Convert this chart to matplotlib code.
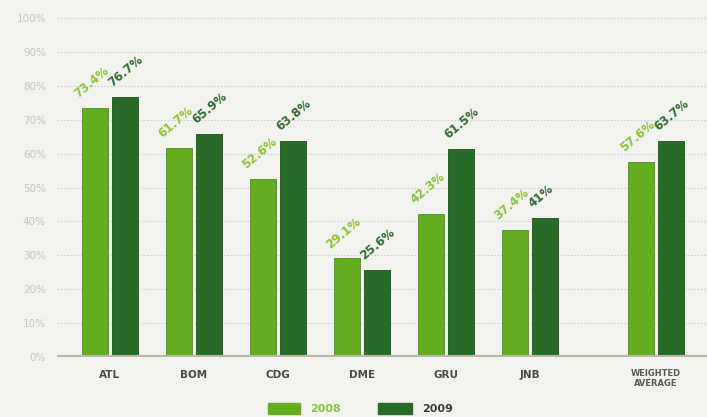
import matplotlib
matplotlib.use("Agg")
import matplotlib.pyplot as plt
import numpy as np
from matplotlib.patches import Rectangle

categories = ["ATL", "BOM", "CDG", "DME", "GRU", "JNB", "WEIGHTED\nAVERAGE"]
values_2008 = [73.4, 61.7, 52.6, 29.1, 42.3, 37.4, 57.6]
values_2009 = [76.7, 65.9, 63.8, 25.6, 61.5, 41.0, 63.7]
label_2008 = ["73.4%", "61.7%", "52.6%", "29.1%", "42.3%", "37.4%", "57.6%"]
label_2009 = ["76.7%", "65.9%", "63.8%", "25.6%", "61.5%", "41%", "63.7%"]
yticks = [0, 10, 20, 30, 40, 50, 60, 70, 80, 90, 100]
series_names = ["2008", "2009"]

positions = np.array([0, 1, 2, 3, 4, 5, 6.5])

bg = "#f2f2ef"
light = "#63ad1f"
dark = "#276b27"
light_txt = "#8cc43c"
dark_txt = "#356b35"

fig = plt.figure(figsize=(7.07, 4.17), dpi=100, facecolor=bg)
ax = fig.add_axes([57 / 707, 60 / 417, 650 / 707, 345 / 417], facecolor=bg)

W = 0.31
gap = 0.045
xl = positions - W / 2 - gap / 2
xd = positions + W / 2 + gap / 2

ax.bar(xl, values_2008, width=W, color=light, edgecolor="#4f8f1a", linewidth=0.6, zorder=3)
ax.bar(xd, values_2009, width=W, color=dark, edgecolor="#1d4f1d", linewidth=0.6, zorder=3)

for x, v, t in zip(xl, values_2008, label_2008):
    ax.text(x - W / 2 - 0.02, v + 2.2, t, rotation=40, rotation_mode="anchor",
            ha="left", va="bottom", fontsize=8.5, fontweight="bold", color=light_txt, zorder=4)
for x, v, t in zip(xd, values_2009, label_2009):
    ax.text(x - W / 2 + 0.03, v + 2.2, t, rotation=40, rotation_mode="anchor",
            ha="left", va="bottom", fontsize=8.5, fontweight="bold", color=dark_txt, zorder=4)

ax.set_xlim(-0.63, 7.11)
ax.set_ylim(0, 101.8)

for y in yticks[1:]:
    ax.axhline(y, color="#d0d0cb", linewidth=0.8, linestyle=(0, (1.5, 1.5)), zorder=1)
ax.axhline(0, color="#b7b8a8", linewidth=3, zorder=5)

ax.set_yticks(yticks)
ax.set_yticklabels([f"{v}%" for v in yticks], fontsize=7.5, color="#c6c6c2")
ax.set_xticks(positions)
ax.set_xticklabels(categories, fontsize=7.5, fontweight="bold", color="#4a4a4a")
for lbl in ax.get_xticklabels():
    if "\n" in lbl.get_text():
        lbl.set_fontsize(6)
        lbl.set_linespacing(1.0)
        lbl.set_color("#5a5a5a")
ax.tick_params(axis="both", length=0)
ax.tick_params(axis="y", pad=8)
ax.tick_params(axis="x", pad=9)
for s in ax.spines.values():
    s.set_visible(False)

# legend drawn in figure coordinates
fig.patches.append(Rectangle((268 / 707, 3 / 417), 32 / 707, 11 / 417,
                             transform=fig.transFigure, color=light, figure=fig))
fig.text(310 / 707, 8.5 / 417, series_names[0], fontsize=8, fontweight="bold",
         color=light_txt, va="center", ha="left")
fig.patches.append(Rectangle((378 / 707, 3 / 417), 34 / 707, 11 / 417,
                             transform=fig.transFigure, color=dark, figure=fig))
fig.text(422 / 707, 8.5 / 417, series_names[1], fontsize=8, fontweight="bold",
         color="#3a3a3a", va="center", ha="left")

fig.savefig("out.png", dpi=100, facecolor=bg)
